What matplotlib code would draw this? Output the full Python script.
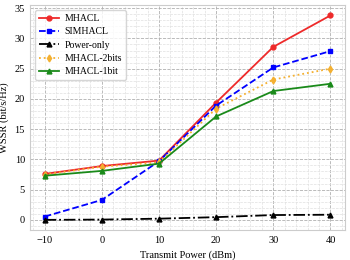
import numpy as np
import matplotlib.pyplot as plt
from matplotlib.ticker import AutoMinorLocator

plt.rcParams['font.family'] = 'Liberation Serif'
plt.rcParams['font.size'] = 7.5

power = [-10, 0, 10, 20, 30, 40]
mhacl = [7.6, 8.9, 9.8, 19.4, 28.6, 33.8]
simhacl = [0.55, 3.3, 9.7, 18.9, 25.2, 27.9]
power_only = [0.0, 0.05, 0.2, 0.45, 0.8, 0.85]
mhacl_2bits = [7.5, 8.8, 9.5, 18.4, 23.2, 25.0]
mhacl_1bit = [7.3, 8.1, 9.3, 17.1, 21.3, 22.5]

fig, ax = plt.subplots(figsize=(3.5, 2.6), dpi=100)
ax.plot(power, mhacl, '-o', color='#ee2a2a', lw=1.3, ms=3.5, label='MHACL')
ax.plot(power, simhacl, '--s', color='blue', lw=1.3, ms=3.5, label='SIMHACL')
ax.plot(power, power_only, '-.^', color='black', lw=1.3, ms=3.5, label='Power-only')
ax.plot(power, mhacl_2bits, ':d', color='#f4b030', lw=1.3, ms=3.5, label='MHACL-2bits')
ax.plot(power, mhacl_1bit, '-^', color='#1a8a1a', lw=1.3, ms=3.5, label='MHACL-1bit')

ax.set_xticks([-10, 0, 10, 20, 30, 40])
ax.set_yticks([0, 5, 10, 15, 20, 25, 30, 35])
ax.xaxis.set_minor_locator(AutoMinorLocator(5))
ax.yaxis.set_minor_locator(AutoMinorLocator(5))
ax.grid(which='major', ls='--', color='#b0b0b0', lw=0.6)
ax.grid(which='minor', ls='--', color='#e0e0e0', lw=0.5)
ax.tick_params(which='both', length=0, pad=4)
for s in ax.spines.values():
    s.set_color('#cccccc')
ax.set_xlabel('Transmit Power (dBm)')
ax.set_ylabel('WSSR (bit/s/Hz)')
ax.legend(loc='upper left', fontsize=7, handlelength=2.0, labelspacing=0.45,
          borderpad=0.4, handletextpad=0.6)
fig.subplots_adjust(left=0.087, right=0.985, top=0.98, bottom=0.115)
fig.savefig('out.png')
